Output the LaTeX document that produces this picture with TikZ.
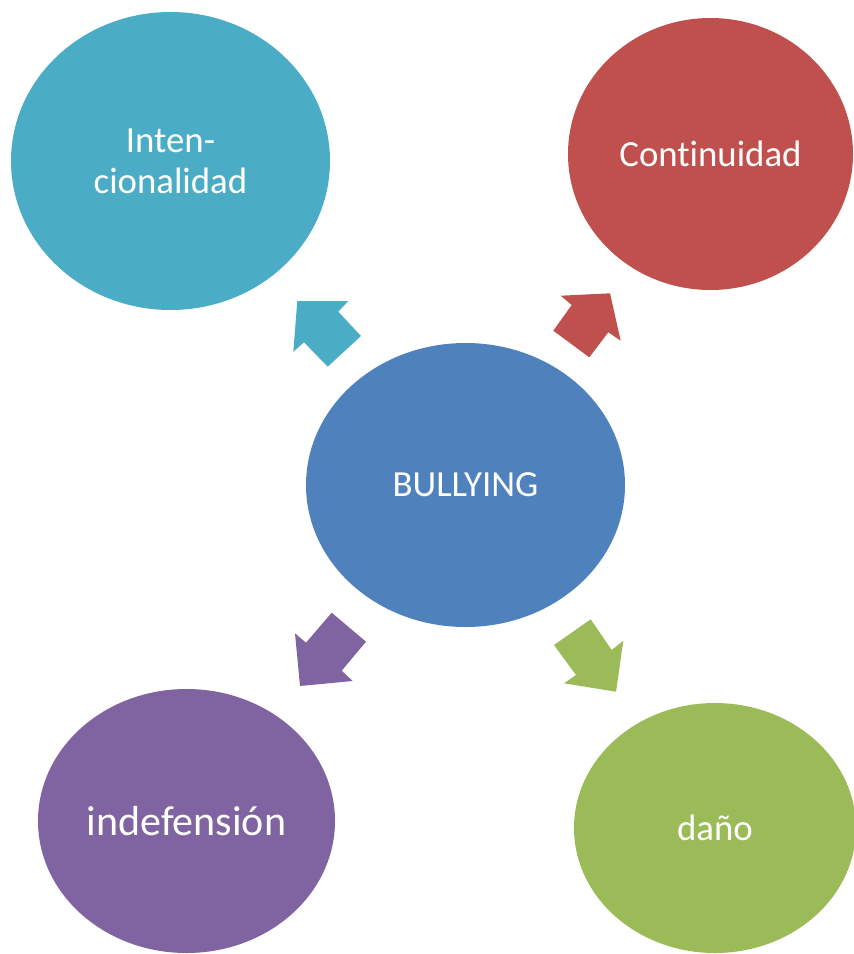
\documentclass[tikz,border=0pt]{standalone}
\usepackage{fontspec}
\setmainfont{Carlito}[Ligatures=NoCommon]
\usetikzlibrary{shapes.geometric}
\definecolor{cCyan}{HTML}{4BACC6}
\definecolor{cRed}{HTML}{C0504D}
\definecolor{cBlue}{HTML}{4F81BD}
\definecolor{cPurple}{HTML}{8064A2}
\definecolor{cGreen}{HTML}{9BBB59}
\tikzset{
  blob/.style={ellipse, inner sep=0pt, text=white, align=center,
    font=\fontsize{36.8}{41}\selectfont},
}
\begin{document}
\begin{tikzpicture}[x=1pt,y=-1pt]
\useasboundingbox (0,0) rectangle (854,954);
\clip (0,0) rectangle (854,954);
% ellipses
\node[blob, fill=cCyan, minimum width=319pt, minimum height=298pt] (intl) at (170.5,161) {Inten-\\cionalidad};
\node[blob, fill=cRed, minimum width=285pt, minimum height=272pt] (cont) at (710.5,154) {Continuidad};
\node[blob, fill=cBlue, minimum width=319pt, minimum height=284pt] (bull) at (465.5,485) {BULLYING};
\node[blob, fill=cPurple, minimum width=297pt, minimum height=264pt, font=\fontsize{42}{48}\selectfont] (indef) at (186.5,821) {indefensión};
\node[blob, fill=cGreen, minimum width=282pt, minimum height=250pt] (dano) at (715,828) {daño};
% block arrows
\fill[cCyan] (297.3,301) -- (348.3,301) -- (338.3,311.7) -- (361,336) -- (327.7,366.7) -- (304,342.3) -- (293.3,351.7) -- cycle;
\fill[cRed] (610,293.3) -- (560.7,295.7) -- (571.7,305) -- (553.3,330.7) -- (589.3,357.3) -- (608.3,332.3) -- (620.7,340.7) -- cycle;
\fill[cPurple] (300,686) -- (295,633.3) -- (306,642.7) -- (331.7,612.7) -- (366,641.7) -- (341.7,670.7) -- (352.7,681) -- cycle;
\fill[cGreen] (616,691.7) -- (623.3,640.7) -- (611.7,650) -- (590.7,619.3) -- (554,645) -- (576,675) -- (564,683.3) -- cycle;
\end{tikzpicture}
\end{document}
